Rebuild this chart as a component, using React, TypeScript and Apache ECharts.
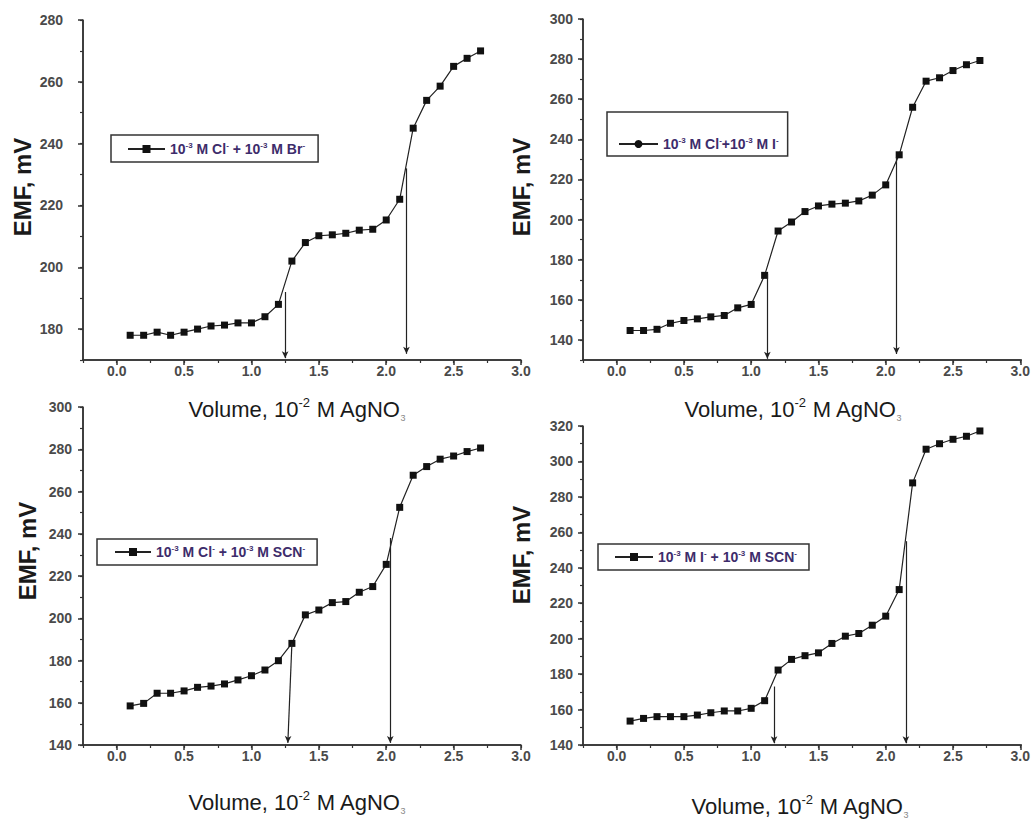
import React, { useEffect, useRef } from "react";
import * as echarts from "echarts";

// ---- data ----
const volumes = [0.1, 0.2, 0.3, 0.4, 0.5, 0.6, 0.7, 0.8, 0.9, 1.0, 1.1, 1.2, 1.3, 1.4, 1.5, 1.6, 1.7, 1.8, 1.9, 2.0, 2.1, 2.2, 2.3, 2.4, 2.5, 2.6, 2.7];

const emfClBr = [178, 178, 179, 178, 179, 180, 181, 181.3, 182, 182, 184, 188, 202, 208, 210.2, 210.5, 211, 212, 212.3, 215.3, 222, 245, 254, 258.6, 265, 267.6, 270];
const emfClI = [144.7, 144.7, 145.3, 148.3, 149.7, 150.5, 151.5, 152.2, 156, 157.7, 172.2, 194.3, 198.8, 204, 206.8, 207.7, 208.2, 209.3, 212.2, 217.3, 232.3, 256, 269, 270.7, 274.3, 277.2, 279.3];
const emfClSCN = [158.5, 159.7, 164.5, 164.5, 165.6, 167.3, 167.9, 168.9, 170.8, 172.8, 175.5, 179.9, 188.1, 201.6, 203.9, 207.4, 207.9, 212.3, 215, 225.5, 252.5, 267.7, 271.8, 275.3, 276.8, 278.9, 280.6];
const emfISCN = [153.5, 155, 156, 156, 156, 156.9, 158.2, 159.2, 159.2, 160.7, 165, 182.3, 188.3, 190.4, 192, 197.3, 201.4, 202.9, 207.6, 212.7, 227.7, 287.9, 306.9, 310, 312.5, 314.2, 317.2];

// end-point arrows: [xTop, yTop, xBottom, yBottom]
const arrowsClBr = [[1.25, 192, 1.25, 170.6], [2.15, 232, 2.15, 172]];
const arrowsClI = [[1.12, 173, 1.12, 130.6], [2.08, 231, 2.08, 133]];
const arrowsClSCN = [[1.3, 188, 1.27, 141], [2.03, 238, 2.03, 141]];
const arrowsISCN = [[1.17, 173, 1.17, 141], [2.15, 255, 2.15, 141]];

const seriesNames = [
  "10-3 M Cl- + 10-3 M Br-",
  "10-3 M Cl-+10-3 M I-",
  "10-3 M Cl- + 10-3 M SCN-",
  "10-3 M I- + 10-3 M SCN-",
];
const legendRich = [
  "{b|10}{s|-3}{b| M Cl}{s|-}{b| + 10}{s|-3}{b| M Br}{s|-}",
  "{b|10}{s|-3}{b| M Cl}{s|-}{b|+10}{s|-3}{b| M I}{s|-}",
  "{b|10}{s|-3}{b| M Cl}{s|-}{b| + 10}{s|-3}{b| M SCN}{s|-}",
  "{b|10}{s|-3}{b| M I}{s|-}{b| + 10}{s|-3}{b| M SCN}{s|-}",
];

const xRange = [-0.25, 3.0];
const xMajorTicks = [0, 0.5, 1.0, 1.5, 2.0, 2.5, 3.0];
const yRanges = [
  [170, 280],
  [130, 300],
  [140, 300],
  [140, 320],
];
const xTitle = "{n|Volume, 10}{sup|-2}{n| M AgNO}{sub|3}";
const yTitle = "EMF, mV";

const FONT = "'Liberation Sans', Arial, Helvetica, sans-serif";

// layout (pixels)
const grids = [
  { left: 83, top: 20, width: 438, height: 340 },
  { left: 583, top: 19, width: 439, height: 341 },
  { left: 83, top: 407, width: 438, height: 338 },
  { left: 583, top: 426, width: 439, height: 319 },
];
const yLabelMargins = [20, 10, 11, 10];
const legendPos = [
  { left: 111, top: 135, padding: [6, 13, 6, 16], itemWidth: 37 },
  { left: 607, top: 112, padding: [24, 9, 5, 11], itemWidth: 39 },
  { left: 97, top: 539, padding: [5, 12, 6, 17], itemWidth: 36 },
  { left: 598, top: 544, padding: [5, 12, 6, 16], itemWidth: 38 },
];
const xTitlePos = [
  [297, 409],
  [793, 409],
  [297, 802],
  [800, 806],
];
const yTitlePos = [
  [22, 187],
  [521, 187],
  [27, 551],
  [521, 555],
];

const allSeries = [emfClBr, emfClI, emfClSCN, emfISCN];
const allArrows = [arrowsClBr, arrowsClI, arrowsClSCN, arrowsISCN];

export default function App() {
  const ref = useRef<HTMLDivElement>(null);

  useEffect(() => {
    if (!ref.current) return;
    const chart = echarts.init(ref.current, null, { renderer: "svg" });

    const axisColor = "#333";
    const labelColor = "#4a4a4a";

    const xAxes: any[] = [];
    const yAxes: any[] = [];
    grids.forEach((_, i) => {
      const [mn, mx] = yRanges[i];
      const majors: number[] = [];
      for (let v = Math.ceil(mn / 20) * 20; v <= mx; v += 20) majors.push(v);
      // main x axis: major ticks + labels
      xAxes.push({
        type: "value",
        gridIndex: i,
        position: "bottom",
        min: xRange[0],
        max: xRange[1],
        interval: 0.25,
        splitLine: { show: false },
        axisLine: { show: true, onZero: false, lineStyle: { color: axisColor, width: 1.5 } },
        axisTick: { show: true, customValues: xMajorTicks, length: 5, lineStyle: { color: axisColor, width: 1.5 } },
        axisLabel: {
          customValues: xMajorTicks,
          formatter: (v: number) => v.toFixed(1),
          color: labelColor,
          fontFamily: FONT,
          fontSize: 14,
          fontWeight: "bold",
          margin: 4,
        },
      });
      // minor ticks overlay
      xAxes.push({
        type: "value",
        gridIndex: i,
        position: "bottom",
        offset: 0,
        min: xRange[0],
        max: xRange[1],
        interval: 0.25,
        splitLine: { show: false },
        axisLine: { show: false, onZero: false },
        axisTick: { show: true, length: 3, lineStyle: { color: axisColor, width: 1.2 } },
        axisLabel: { show: false },
      });
      yAxes.push({
        type: "value",
        gridIndex: i,
        position: "left",
        min: mn,
        max: mx,
        interval: 10,
        splitLine: { show: false },
        axisLine: { show: true, onZero: false, lineStyle: { color: axisColor, width: 1.5 } },
        axisTick: { show: true, customValues: majors, length: 5, lineStyle: { color: axisColor, width: 1.5 } },
        axisLabel: {
          customValues: majors,
          color: labelColor,
          fontFamily: FONT,
          fontSize: 14,
          fontWeight: "bold",
          margin: yLabelMargins[i],
        },
      });
      yAxes.push({
        type: "value",
        gridIndex: i,
        position: "left",
        offset: 0,
        min: mn,
        max: mx,
        interval: 10,
        splitLine: { show: false },
        axisLine: { show: false, onZero: false },
        axisTick: { show: true, length: 3, lineStyle: { color: axisColor, width: 1.2 } },
        axisLabel: { show: false },
      });
    });

    const series: any[] = allSeries.map((vals, i) => ({
      type: "line",
      name: seriesNames[i],
      xAxisIndex: i * 2,
      yAxisIndex: i * 2,
      symbol: i === 1 ? "circle" : "rect",
      symbolSize: 7,
      data: volumes.map((x, k) => (i === 1 ? { value: [x, vals[k]], symbol: "rect" } : [x, vals[k]])),
      itemStyle: { color: "#111" },
      lineStyle: { color: "#222", width: 1.2 },
      markLine: {
        silent: true,
        symbol: ["none", "arrow"],
        symbolSize: [5, 7],
        label: { show: false },
        emphasis: { disabled: true },
        lineStyle: { color: "#222", width: 1.2, type: "solid" },
        data: allArrows[i].map((a) => [{ coord: [a[0], a[1]] }, { coord: [a[2], a[3]] }]),
      },
    }));

    const legendTextColor = "#3d2c6b";
    const legends = legendPos.map((p, i) => ({
      data: [seriesNames[i]],
      left: p.left,
      top: p.top,
      padding: p.padding,
      itemWidth: p.itemWidth,
      itemHeight: 10,
      borderColor: "#333",
      borderWidth: 1.5,
      selectedMode: false,
      formatter: () => legendRich[i],
      textStyle: {
        color: legendTextColor,
        fontFamily: FONT,
        fontSize: 14,
        fontWeight: "bold",
        rich: {
          b: { color: legendTextColor, fontFamily: FONT, fontSize: 14, fontWeight: "bold", lineHeight: 16, verticalAlign: "middle" },
          s: { color: legendTextColor, fontFamily: FONT, fontSize: 8, fontWeight: "bold", lineHeight: 9, verticalAlign: "top" },
        },
      },
    }));

    const graphics: any[] = [];
    xTitlePos.forEach((p) => {
      graphics.push({
        type: "text",
        x: p[0],
        y: p[1],
        style: {
          text: xTitle,
          align: "center",
          verticalAlign: "middle",
          fill: "#1a1a1a",
          font: `22px ${FONT}`,
          rich: {
            n: { fontFamily: FONT, fontSize: 22, fill: "#1a1a1a", lineHeight: 26, verticalAlign: "middle" },
            sup: { fontFamily: FONT, fontSize: 13, fill: "#1a1a1a", lineHeight: 14, verticalAlign: "top" },
            sub: { fontFamily: FONT, fontSize: 9, fill: "#888", lineHeight: 12, verticalAlign: "bottom" },
          },
        },
      });
    });
    yTitlePos.forEach((p) => {
      graphics.push({
        type: "text",
        x: p[0],
        y: p[1],
        rotation: Math.PI / 2,
        style: {
          text: yTitle,
          align: "center",
          verticalAlign: "middle",
          fill: "#1a1a1a",
          font: `bold 24px ${FONT}`,
        },
      });
    });
    // plot frame lines (left and bottom edges of each plot area)
    grids.forEach((g) => {
      graphics.push({
        type: "rect",
        z: 100,
        silent: true,
        shape: { x: g.left - 0.75, y: g.top, width: 1.5, height: g.height + 0.75 },
        style: { fill: axisColor },
      });
      graphics.push({
        type: "rect",
        z: 100,
        silent: true,
        shape: { x: g.left - 0.75, y: g.top + g.height - 0.75, width: g.width + 0.75, height: 1.5 },
        style: { fill: axisColor },
      });
    });

    chart.setOption({
      animation: false,
      backgroundColor: "#ffffff",
      grid: grids.map((g) => ({ ...g, containLabel: false })),
      xAxis: xAxes,
      yAxis: yAxes,
      legend: legends,
      series,
      graphic: graphics,
    });

    return () => chart.dispose();
  }, []);

  return (
    <div
      ref={ref}
      style={{ position: "absolute", left: 0, top: 0, width: 1033, height: 822, background: "#fff" }}
    />
  );
}
